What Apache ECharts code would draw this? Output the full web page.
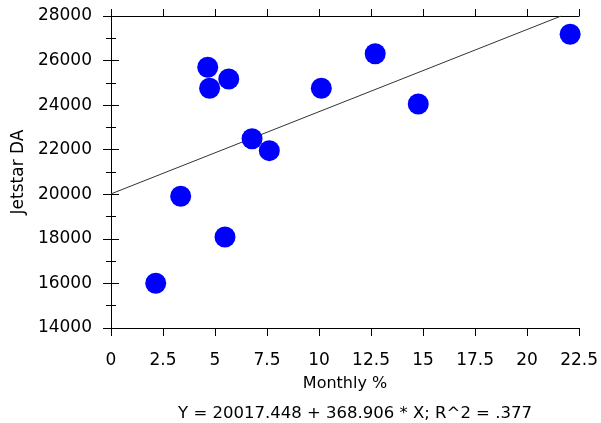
<!DOCTYPE html>
<html>
<head>
<meta charset="utf-8">
<script src="https://cdn.jsdelivr.net/npm/echarts@6/dist/echarts.min.js"></script>
<style>
  body { margin: 0; background: #fff; }
  #main { width: 601px; height: 423px; }
</style>
</head>
<body>
<div id="main"></div>
<script>
// scatter points: Monthly % vs Jetstar DA
var monthly = [2.15, 3.35, 4.65, 4.74, 5.48, 5.66, 6.78, 7.61, 10.11, 12.70, 14.77, 22.07];
var jetstar = [16006, 19910, 25700, 24756, 18083, 25173, 22494, 21956, 24756, 26308, 24051, 27179];

// fitted line end points (clipped at the top of the plot)
var fitX = [0, 21.64];
var fitY = [20017.448, 28000];

var fitText = 'Y = 20017.448 + 368.906 * X; R^2 = .377';

var points = monthly.map(function (x, i) { return [x, jetstar[i]]; });
var fitLine = fitX.map(function (x, i) { return [x, fitY[i]]; });

var font = 'DejaVu Sans';
var chart = echarts.init(document.getElementById('main'));

var option = {
  backgroundColor: '#fff',
  animation: false,
  textStyle: { fontFamily: font },
  title: {
    text: fitText,
    left: 350,
    textAlign: 'center',
    top: 400,
    textStyle: { fontFamily: font, fontSize: 16.5, fontWeight: 'normal', color: '#000' }
  },
  grid: { left: 111, right: 21, top: 16, bottom: 95 },
  xAxis: [
    {
      type: 'value', min: 0, max: 22.5, interval: 2.5, position: 'bottom',
      name: 'Monthly %', nameLocation: 'middle', nameGap: 48,
      nameTextStyle: { fontFamily: font, fontSize: 16, color: '#000' },
      axisLine: { lineStyle: { color: '#000', width: 1 } },
      axisTick: { length: 8, lineStyle: { color: '#000' } },
      axisLabel: { fontFamily: font, fontSize: 17, color: '#000', margin: 24, formatter: function (v) { return String(v); } },
      splitLine: { show: false }
    },
    {
      type: 'value', min: 0, max: 22.5, interval: 2.5, position: 'top',
      axisLine: { lineStyle: { color: '#000', width: 1 } },
      axisTick: { length: 7, lineStyle: { color: '#000' } },
      axisLabel: { show: false },
      splitLine: { show: false }
    }
  ],
  yAxis: [
    {
      type: 'value', min: 14000, max: 28000, interval: 2000, position: 'left',
      name: 'Jetstar DA', nameLocation: 'middle', nameGap: 77, nameRotate: 90,
      nameTextStyle: { fontFamily: font, fontSize: 17, color: '#000' },
      axisLine: { show: true, lineStyle: { color: '#000', width: 1 } },
      axisTick: { show: true, length: 8, lineStyle: { color: '#000' } },
      minorTick: { show: true, splitNumber: 2, length: 5, lineStyle: { color: '#000' } },
      axisLabel: { fontFamily: font, fontSize: 17, color: '#000', margin: 19, formatter: function (v) { return String(v); } },
      splitLine: { show: false }
    },
    {
      type: 'value', min: 14000, max: 28000, interval: 2000, position: 'right',
      axisLine: { show: true, lineStyle: { color: '#000', width: 1 } },
      axisTick: { show: true, length: 8, lineStyle: { color: '#000' } },
      minorTick: { show: true, splitNumber: 2, length: 5, lineStyle: { color: '#000' } },
      axisLabel: { show: false },
      splitLine: { show: false }
    }
  ],
  series: [
    {
      type: 'line',
      data: fitLine,
      showSymbol: false,
      symbol: 'none',
      lineStyle: { color: '#333', width: 1 },
      z: 1
    },
    {
      type: 'scatter',
      data: points,
      symbolSize: 21,
      itemStyle: { color: '#0000ff', opacity: 1 },
      z: 2
    }
  ]
};

chart.setOption(option);
</script>
</body>
</html>
